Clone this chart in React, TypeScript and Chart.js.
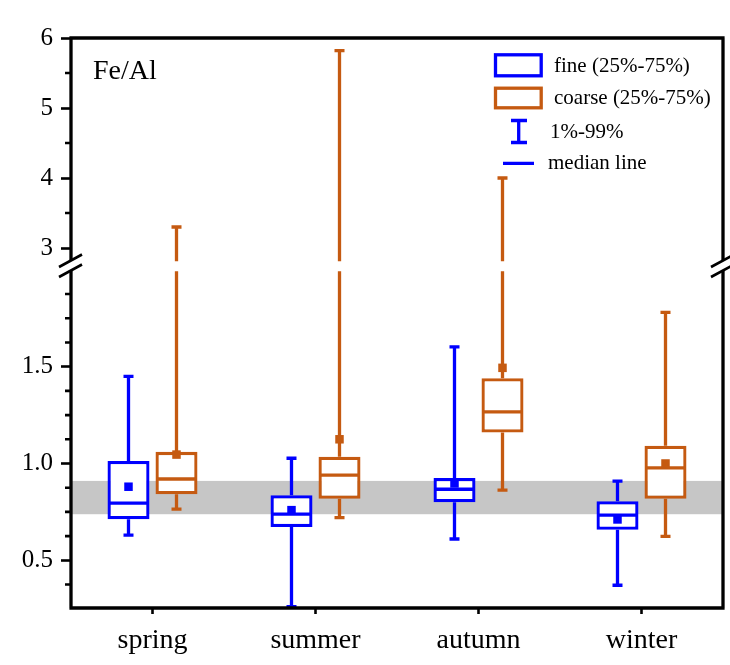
import React, { useEffect, useRef } from 'react';
import { Chart, registerables } from 'chart.js';

Chart.register(...registerables);

const seasons = ['spring', 'summer', 'autumn', 'winter'];

// fine particles (blue)
const fineP1 = [0.63, 0.26, 0.61, 0.371];
const fineQ1 = [0.712, 0.672, 0.80, 0.658];
const fineMedian = [0.795, 0.738, 0.867, 0.733];
const fineMean = [0.88, 0.759, 0.897, 0.711];
const fineQ3 = [1.013, 0.836, 0.925, 0.805];
const fineP99 = [1.45, 1.027, 1.602, 0.909];

// coarse particles (orange)
const coarseP1 = [0.764, 0.72, 0.862, 0.624];
const coarseQ1 = [0.841, 0.818, 1.16, 0.818];
const coarseMedian = [0.92, 0.94, 1.267, 0.977];
const coarseMean = [1.046, 1.125, 1.494, 1.0];
const coarseQ3 = [1.06, 1.035, 1.44, 1.092];
const coarseP99 = [3.3, 5.82, 4.0, 1.78];

// reference band
const bandRange = [0.738, 0.91];

// axes
const lowerTicks = [0.5, 1.0, 1.5];
const lowerMinorTicks = [0.375, 0.625, 0.75, 0.875, 1.125, 1.25, 1.375, 1.625, 1.75, 1.875];
const upperTicks = [3, 4, 5, 6];
const upperMinorTicks = [3.5, 4.5, 5.5];
const lowerRange = [0.2536, 2.02];
const upperRange = [2.743, 6];
const breakValues = [1.993, 2.81]; // where the whiskers stop / resume

const legendLabels = ['fine (25%-75%)', 'coarse (25%-75%)', '1%-99%', 'median line'];
const panelTitle = 'Fe/Al';

const BLUE = '#0000ff';
const ORANGE = '#c55a11';
const GRAY = '#c6c6c6';
const FONT = 'Liberation Serif';
const LW = 3.3;

const boxPlugin = {
  id: 'boxExtras',
  beforeDatasetsDraw(chart: any) {
    const { ctx, chartArea } = chart;
    const yLow = chart.scales.yLow;
    const yUp = chart.scales.yUp;
    ctx.save();
    // gray band
    ctx.fillStyle = GRAY;
    const b1 = yLow.getPixelForValue(bandRange[1]);
    const b0 = yLow.getPixelForValue(bandRange[0]);
    ctx.fillRect(chartArea.left, b1, chartArea.right - chartArea.left, b0 - b1);

    // whiskers
    const groups = [
      { di: 0, p1: fineP1, q1: fineQ1, q3: fineQ3, p99: fineP99, color: BLUE },
      { di: 1, p1: coarseP1, q1: coarseQ1, q3: coarseQ3, p99: coarseP99, color: ORANGE },
    ];
    ctx.lineWidth = LW;
    ctx.lineCap = 'butt';
    for (const g of groups) {
      const meta = chart.getDatasetMeta(g.di);
      ctx.strokeStyle = g.color;
      meta.data.forEach((el: any, i: number) => {
        const x = el.x;
        const cap = 5;
        const yq1 = yLow.getPixelForValue(g.q1[i]);
        const yp1 = yLow.getPixelForValue(g.p1[i]);
        ctx.beginPath();
        ctx.moveTo(x, yq1);
        ctx.lineTo(x, yp1);
        ctx.moveTo(x - cap, yp1);
        ctx.lineTo(x + cap, yp1);
        ctx.stroke();
        const yq3 = yLow.getPixelForValue(g.q3[i]);
        let ytop;
        ctx.beginPath();
        if (g.p99[i] > breakValues[0]) {
          ctx.moveTo(x, yq3);
          ctx.lineTo(x, yLow.getPixelForValue(breakValues[0]));
          ytop = yUp.getPixelForValue(g.p99[i]);
          ctx.moveTo(x, yUp.getPixelForValue(breakValues[1]));
          ctx.lineTo(x, ytop);
        } else {
          ytop = yLow.getPixelForValue(g.p99[i]);
          ctx.moveTo(x, yq3);
          ctx.lineTo(x, ytop);
        }
        ctx.moveTo(x - cap, ytop);
        ctx.lineTo(x + cap, ytop);
        ctx.stroke();
      });
    }
    ctx.restore();
  },
  afterDatasetsDraw(chart: any) {
    const { ctx } = chart;
    const yLow = chart.scales.yLow;
    ctx.save();
    const groups = [
      { di: 0, med: fineMedian, mean: fineMean, color: BLUE },
      { di: 1, med: coarseMedian, mean: coarseMean, color: ORANGE },
    ];
    for (const g of groups) {
      const meta = chart.getDatasetMeta(g.di);
      meta.data.forEach((el: any, i: number) => {
        const x = el.x;
        const w = el.width;
        const ym = yLow.getPixelForValue(g.med[i]);
        ctx.strokeStyle = g.color;
        ctx.lineWidth = LW;
        ctx.beginPath();
        ctx.moveTo(x - w / 2 + 1, ym);
        ctx.lineTo(x + w / 2 - 1, ym);
        ctx.stroke();
        const yMean = yLow.getPixelForValue(g.mean[i]);
        ctx.fillStyle = g.color;
        ctx.fillRect(x - 4.25, yMean - 4.25, 8.5, 8.5);
      });
    }
    ctx.restore();
  },
  afterDraw(chart: any) {
    const { ctx, chartArea } = chart;
    const { left, right, top, bottom } = chartArea;
    const yUp = chart.scales.yUp;
    const yLow = chart.scales.yLow;
    ctx.save();
    // minor ticks
    ctx.strokeStyle = '#000';
    ctx.lineWidth = 2.6;
    ctx.beginPath();
    for (const v of lowerMinorTicks) {
      const y = yLow.getPixelForValue(v);
      ctx.moveTo(left - 6, y);
      ctx.lineTo(left, y);
    }
    for (const v of upperMinorTicks) {
      const y = yUp.getPixelForValue(v);
      ctx.moveTo(left - 6, y);
      ctx.lineTo(left, y);
    }
    ctx.stroke();

    // frame with break
    const mid = yUp.bottom - 0.5;
    const gTop = mid - 5;
    const gBot = mid + 5;
    ctx.lineWidth = 3.3;
    ctx.beginPath();
    ctx.moveTo(left - 1.6, top);
    ctx.lineTo(right + 1.6, top);
    ctx.moveTo(left - 1.6, bottom);
    ctx.lineTo(right + 1.6, bottom);
    ctx.moveTo(left, top);
    ctx.lineTo(left, gTop);
    ctx.moveTo(left, gBot);
    ctx.lineTo(left, bottom);
    ctx.moveTo(right, top);
    ctx.lineTo(right, gTop);
    ctx.moveTo(right, gBot);
    ctx.lineTo(right, bottom);
    ctx.stroke();
    ctx.lineWidth = 2.6;
    ctx.beginPath();
    for (const xx of [left, right]) {
      for (const yy of [gTop, gBot]) {
        ctx.moveTo(xx - 12, yy + 6.5);
        ctx.lineTo(xx + 11, yy - 6);
      }
    }
    ctx.stroke();

    // panel title
    ctx.fillStyle = '#000';
    ctx.font = `28px "${FONT}"`;
    ctx.textAlign = 'left';
    ctx.textBaseline = 'alphabetic';
    ctx.fillText(panelTitle, left + 22, top + 41);

    // legend
    ctx.lineWidth = LW;
    ctx.strokeStyle = BLUE;
    ctx.strokeRect(495.5, 54.8, 45.7, 21);
    ctx.strokeStyle = ORANGE;
    ctx.strokeRect(495.5, 88.2, 45.7, 19.6);
    ctx.strokeStyle = BLUE;
    ctx.beginPath();
    ctx.moveTo(518.7, 120.5);
    ctx.lineTo(518.7, 142.5);
    ctx.moveTo(511, 120.5);
    ctx.lineTo(527, 120.5);
    ctx.moveTo(511, 142.5);
    ctx.lineTo(527, 142.5);
    ctx.moveTo(503, 163.3);
    ctx.lineTo(534, 163.3);
    ctx.stroke();
    ctx.font = `21px "${FONT}"`;
    ctx.textBaseline = 'middle';
    ctx.fillStyle = '#000';
    ctx.fillText(legendLabels[0], 554, 66);
    ctx.fillText(legendLabels[1], 554, 98.5);
    ctx.fillText(legendLabels[2], 550, 132);
    ctx.fillText(legendLabels[3], 548, 163);
    ctx.restore();
  },
};

export default function App() {
  const ref = useRef<HTMLCanvasElement | null>(null);
  useEffect(() => {
    if (!ref.current) return;
    Chart.defaults.font.family = FONT;
    const chart = new Chart(ref.current, {
      type: 'bar',
      data: {
        labels: seasons,
        datasets: [
          {
            label: 'fine',
            data: seasons.map((_, i) => [fineQ1[i], fineQ3[i]]) as any,
            yAxisID: 'yLow',
            backgroundColor: '#ffffff',
            borderColor: BLUE,
            borderWidth: LW,
            borderSkipped: false,
            categoryPercentage: 0.589,
            barPercentage: 0.875,
          },
          {
            label: 'coarse',
            data: seasons.map((_, i) => [coarseQ1[i], coarseQ3[i]]) as any,
            yAxisID: 'yLow',
            backgroundColor: '#ffffff',
            borderColor: ORANGE,
            borderWidth: LW,
            borderSkipped: false,
            categoryPercentage: 0.589,
            barPercentage: 0.875,
          },
        ],
      },
      options: {
        animation: false,
        responsive: true,
        maintainAspectRatio: false,
        layout: { padding: { top: 38, right: 7, left: 0, bottom: 0 } },
        plugins: { legend: { display: false }, tooltip: { enabled: false } },
        scales: {
          x: {
            type: 'category',
            offset: true,
            border: { display: false },
            grid: {
              display: true,
              offset: false,
              drawOnChartArea: false,
              drawTicks: true,
              tickLength: 6,
              tickWidth: 2.6,
              tickColor: '#000',
            },
            ticks: { color: '#000', font: { family: FONT, size: 28 }, padding: 10 },
            afterFit: (s: any) => { s.height = 57; },
          },
          yLow: {
            type: 'linear',
            position: 'left',
            stack: 'y',
            stackWeight: 342,
            min: lowerRange[0],
            max: lowerRange[1],
            border: { display: false },
            grid: {
              display: true,
              drawOnChartArea: false,
              drawTicks: true,
              tickLength: 10,
              tickWidth: 2.6,
              tickColor: '#000',
            },
            afterBuildTicks: (s: any) => { s.ticks = lowerTicks.map((v) => ({ value: v })); },
            ticks: {
              color: '#000',
              font: { family: FONT, size: 25 },
              padding: 8,
              callback: (v: any) => Number(v).toFixed(1),
            },
            afterFit: (s: any) => { s.width = 71; },
          },
          yUp: {
            type: 'linear',
            position: 'left',
            stack: 'y',
            stackWeight: 228,
            min: upperRange[0],
            max: upperRange[1],
            border: { display: false },
            grid: {
              display: true,
              drawOnChartArea: false,
              drawTicks: true,
              tickLength: 10,
              tickWidth: 2.6,
              tickColor: '#000',
            },
            afterBuildTicks: (s: any) => { s.ticks = upperTicks.map((v) => ({ value: v })); },
            ticks: {
              color: '#000',
              font: { family: FONT, size: 25 },
              padding: 8,
              callback: (v: any) => String(v),
            },
            afterFit: (s: any) => { s.width = 71; },
          },
        },
      } as any,
      plugins: [boxPlugin],
    });
    return () => chart.destroy();
  }, []);
  return (
    <div style={{ position: 'fixed', left: 0, top: 0, width: 730, height: 665, background: '#fff' }}>
      <canvas ref={ref} />
    </div>
  );
}
